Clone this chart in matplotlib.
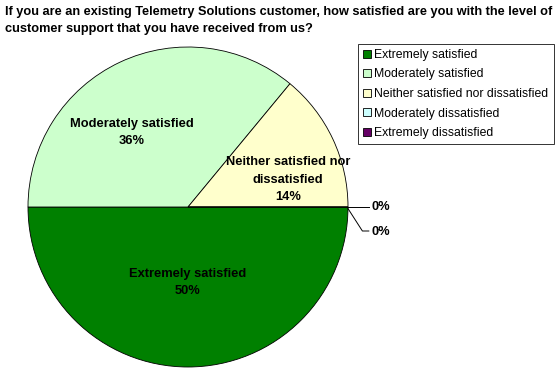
import matplotlib
matplotlib.use("Agg")
import matplotlib.pyplot as plt
from matplotlib.patches import Patch

plt.rcParams['font.family'] = ['Liberation Sans', 'DejaVu Sans']

title = ("If you are an existing Telemetry Solutions customer, how satisfied are you with the level of\n"
         "customer support that you have received from us?")
categories = ["Extremely satisfied", "Moderately satisfied",
              "Neither satisfied nor dissatisfied", "Moderately dissatisfied",
              "Extremely dissatisfied"]
values = [50, 36, 14, 0, 0]
colors = ["#008000", "#ccffcc", "#ffffcc", "#ccffff", "#660066"]
slice_labels = ["Extremely satisfied\n50%", "Moderately satisfied\n36%",
                "Neither satisfied nor\ndissatisfied\n14%", "0%", "0%"]

fig = plt.figure(figsize=(5.6, 3.74), dpi=100)
fig.patch.set_facecolor("white")

fig.text(5/560, 1 - 6/374, title, ha="left", va="top", fontsize=9.2,
         fontweight="bold", linespacing=1.55)

ax = fig.add_axes([28/560, 7/374, 320/560, 320/374])
wedges, _ = ax.pie(values, colors=colors, startangle=0, counterclock=False,
                   wedgeprops=dict(edgecolor="black", linewidth=0.6))
ax.set_xlim(-1, 1)
ax.set_ylim(-1, 1)
ax.set_aspect("equal")
ax.axis("off")

# in-slice labels
label_pos = [(0.0, -0.47), (-0.35, 0.465), (0.625, 0.17)]
for (x, y), lab in zip(label_pos, slice_labels[:3]):
    ax.text(x, y, lab, ha="center", va="center", fontsize=9.3,
            fontweight="bold", linespacing=1.6)

# zero-value labels with leader lines
ax.plot([1.0, 1.13], [0.0, 0.0], color="black", lw=0.7, clip_on=False)
ax.plot([1.0, 1.09, 1.13], [-0.01, -0.15, -0.15], color="black", lw=0.7, clip_on=False)
ax.text(1.145, 0.0, slice_labels[3], ha="left", va="center", fontsize=9.3,
        fontweight="bold")
ax.text(1.145, -0.155, slice_labels[4], ha="left", va="center", fontsize=9.3,
        fontweight="bold")

handles = [Patch(facecolor=c, edgecolor="black", linewidth=0.6) for c in colors]
leg = fig.legend(handles, categories, loc="upper left",
                 bbox_to_anchor=(358/560, 1 - 44/374), fontsize=8.8,
                 frameon=True, fancybox=False, edgecolor="black",
                 handlelength=0.65, handleheight=0.65, handletextpad=0.3,
                 labelspacing=0.62, borderpad=0.4, borderaxespad=0)
leg.get_frame().set_linewidth(0.7)

fig.savefig("out.png", dpi=100, facecolor="white")
